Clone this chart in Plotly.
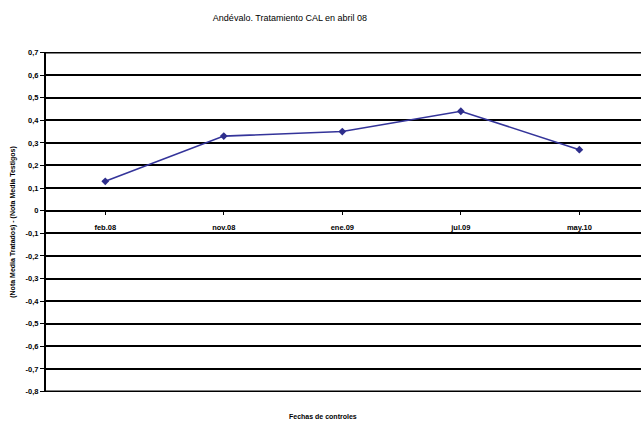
import plotly.graph_objects as go

# Control dates and the difference between treated and control mean scores
fechas = ["feb.08", "nov.08", "ene.09", "jul.09", "may.10"]
diferencia = [0.13, 0.33, 0.35, 0.44, 0.27]

y_ticks = [0.7, 0.6, 0.5, 0.4, 0.3, 0.2, 0.1, 0, -0.1, -0.2, -0.3, -0.4, -0.5, -0.6, -0.7, -0.8]
y_labels = ["0,7", "0,6", "0,5", "0,4", "0,3", "0,2", "0,1", "0", "-0,1", "-0,2", "-0,3",
            "-0,4", "-0,5", "-0,6", "-0,7", "-0,8"]

y_min, y_max = -0.802, 0.702
font = "Liberation Sans, Arial, sans-serif"

fig = go.Figure()
fig.add_trace(go.Scatter(
    x=list(range(len(fechas))),
    y=diferencia,
    mode="lines+markers",
    line=dict(color="#34349a", width=1.6),
    marker=dict(symbol="diamond", size=6, color="#2e2e8c"),
    showlegend=False,
    cliponaxis=False,
))

# Top and bottom gridlines sit on the edges of the value range
for edge in (y_ticks[0], y_ticks[-1]):
    fig.add_shape(type="line", xref="paper", yref="y", x0=0, x1=1, y0=edge, y1=edge,
                  line=dict(color="black", width=2), layer="below")

fig.update_layout(
    width=641, height=423,
    margin=dict(l=46, r=0, t=52, b=31),
    paper_bgcolor="white", plot_bgcolor="white",
    title=dict(text="Andévalo. Tratamiento CAL en abril 08",
               font=dict(family=font, size=9, color="black"),
               x=290 / 641, xanchor="center", y=1 - 18 / 423, yanchor="middle"),
    xaxis=dict(
        range=[-0.5, 4.52],
        tickmode="array",
        tickvals=list(range(len(fechas))),
        ticktext=[f"<b>{f}</b>" for f in fechas],
        tickfont=dict(family=font, size=7.5, color="black"),
        ticklabelstandoff=6,
        showgrid=False, zeroline=False,
        showline=True, linecolor="black", linewidth=2,
        ticks="outside", ticklen=3, tickwidth=1, tickcolor="black",
        tickson="boundaries",
        anchor="free", position=(0 - y_min) / (y_max - y_min),
    ),
    yaxis=dict(
        range=[y_min, y_max],
        tickmode="array",
        tickvals=y_ticks,
        ticktext=[f"<b>{t}</b>" for t in y_labels],
        tickfont=dict(family=font, size=7.5, color="black"),
        showgrid=True, gridcolor="black", gridwidth=2,
        zeroline=False,
        showline=True, linecolor="black", linewidth=2,
        ticks="outside", ticklen=4, tickwidth=1, tickcolor="black",
        title=dict(text="<b>(Nota Media Tratados) - (Nota Media Testigos)</b>",
                   font=dict(family=font, size=7, color="black"), standoff=9),
    ),
    annotations=[dict(
        text="<b>Fechas de controles</b>", showarrow=False,
        xref="paper", yref="paper", x=(323 - 46) / 595, y=0,
        yshift=-24, font=dict(family=font, size=7, color="black"),
        xanchor="center", yanchor="middle",
    )],
)

fig.write_html("out.html")
